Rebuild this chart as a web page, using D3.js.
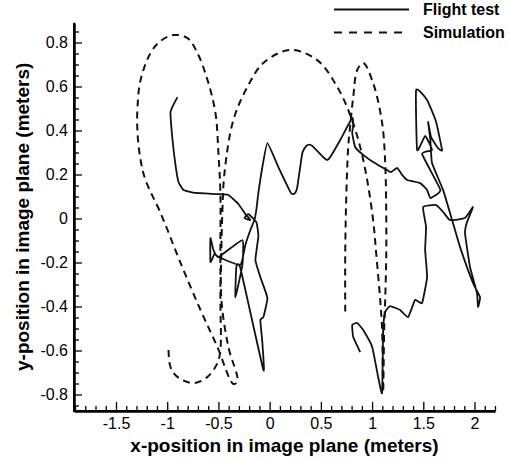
<!DOCTYPE html>
<html>
<head>
<meta charset="utf-8">
<script src="https://cdn.jsdelivr.net/npm/d3@7"></script>
<style>
  html, body { margin: 0; padding: 0; background: #fff; }
  svg { display: block; font-family: "Liberation Sans", Arial, Helvetica, sans-serif; }
</style>
</head>
<body>
<svg id="chart" width="509" height="461"></svg>
<script>
// Series names shown in the legend
const seriesNames = ["Flight test", "Simulation"];

// Flight test trajectory: [x, y] positions in meters
const flightTest = [
  [-0.900, 0.552], [-0.968, 0.484], [-0.948, 0.357], [-0.919, 0.243], [-0.890, 0.166],
  [-0.841, 0.130], [-0.725, 0.116], [-0.510, 0.111], [-0.403, 0.107], [-0.305, 0.066],
  [-0.237, 0.020], [-0.188, -0.007], [-0.247, 0.002], [-0.208, 0.020], [-0.130, -0.016],
  [-0.110, -0.080], [-0.139, -0.189], [-0.091, -0.266], [-0.022, -0.361], [-0.061, -0.448],
  [-0.091, -0.461], [-0.071, -0.566], [-0.061, -0.689], [-0.286, -0.225], [-0.325, -0.220],
  [-0.334, -0.357], [-0.266, -0.211], [-0.266, -0.098], [-0.500, -0.175], [-0.549, -0.143],
  [-0.578, -0.089], [-0.578, -0.198], [-0.539, -0.161], [-0.500, -0.175], [-0.286, -0.211],
  [-0.237, -0.120], [-0.188, -0.052], [-0.149, -0.007], [-0.130, 0.039], [-0.110, 0.116],
  [-0.071, 0.234], [-0.022, 0.343], [0.085, 0.234], [0.182, 0.139], [0.210, 0.115],
  [0.231, 0.111], [0.252, 0.118], [0.270, 0.143], [0.319, 0.298], [0.358, 0.330],
  [0.387, 0.336], [0.416, 0.330], [0.530, 0.276], [0.562, 0.266], [0.595, 0.282],
  [0.689, 0.357], [0.806, 0.457], [0.816, 0.425], [0.806, 0.389], [0.835, 0.325],
  [0.913, 0.289], [1.010, 0.257], [1.147, 0.220], [1.186, 0.211], [1.245, 0.230],
  [1.293, 0.198], [1.342, 0.175], [1.469, 0.161], [1.537, 0.130], [1.569, 0.093],
  [1.667, 0.130], [1.488, 0.293], [1.585, 0.311], [1.518, 0.375], [1.440, 0.311],
  [1.430, 0.584], [1.537, 0.539], [1.625, 0.439], [1.683, 0.311], [1.644, 0.320],
  [1.576, 0.370], [1.547, 0.439], [1.569, 0.357], [1.585, 0.252], [1.693, 0.130],
  [1.781, -0.007], [1.859, -0.130], [1.985, -0.293], [2.054, -0.357], [2.034, -0.402],
  [2.024, -0.339], [1.956, -0.220], [1.907, -0.066], [1.927, -0.016], [1.985, 0.052],
  [1.907, 0.002], [1.761, -0.007], [1.693, 0.030], [1.625, 0.061], [1.498, 0.052],
  [1.527, -0.039], [1.518, -0.143], [1.537, -0.266], [1.488, -0.384], [1.420, -0.370],
  [1.352, -0.448], [1.274, -0.416], [1.176, -0.398], [1.128, -0.425], [1.108, -0.507],
  [1.098, -0.793], [1.059, -0.720], [1.001, -0.584], [0.913, -0.507], [0.855, -0.475],
  [0.806, -0.484], [0.816, -0.539], [0.884, -0.607]
];

// Simulated trajectory: [x, y] positions in meters
const simulation = [
  [-0.987, -0.598], [-0.968, -0.675], [-0.900, -0.720], [-0.744, -0.748], [-0.607, -0.720],
  [-0.510, -0.657], [-0.481, -0.598], [-0.481, -0.370], [-0.481, -0.143], [-0.481, 0.116],
  [-0.500, 0.298], [-0.529, 0.479], [-0.607, 0.630], [-0.705, 0.752], [-0.802, 0.820],
  [-0.939, 0.834], [-1.065, 0.807], [-1.163, 0.752], [-1.260, 0.630], [-1.290, 0.507],
  [-1.290, 0.389], [-1.260, 0.266], [-1.212, 0.175], [-1.065, 0.025], [-0.870, -0.202],
  [-0.675, -0.416], [-0.510, -0.584], [-0.354, -0.752], [-0.315, -0.739], [-0.403, -0.584],
  [-0.471, -0.370], [-0.471, -0.143], [-0.461, 0.039], [-0.441, 0.207], [-0.354, 0.448],
  [-0.217, 0.598], [-0.061, 0.707], [0.202, 0.766], [0.465, 0.720], [0.660, 0.598],
  [0.787, 0.470], [0.884, 0.325], [0.952, 0.175], [1.010, -0.007], [1.040, -0.157],
  [1.079, -0.370], [1.098, -0.507], [1.108, -0.789], [1.118, -0.507], [1.128, -0.370],
  [1.138, -0.175], [1.138, 0.025], [1.128, 0.252], [1.098, 0.434], [1.010, 0.616],
  [0.913, 0.707], [0.855, 0.675], [0.816, 0.552], [0.787, 0.425], [0.767, 0.325],
  [0.748, 0.098], [0.738, -0.157], [0.738, -0.430]
];

// Axis ticks and titles
const xTickValues = [-1.5, -1, -0.5, 0, 0.5, 1, 1.5, 2];
const xTickLabels = ["-1.5", "-1", "-0.5", "0", "0.5", "1", "1.5", "2"];
const yTickValues = [-0.8, -0.6, -0.4, -0.2, 0, 0.2, 0.4, 0.6, 0.8];
const yTickLabels = ["-0.8", "-0.6", "-0.4", "-0.2", "0", "0.2", "0.4", "0.6", "0.8"];
const xDomain = [-1.91, 2.2];
const yDomain = [-0.875, 0.89];
const xTitle = "x-position in image plane (meters)";
const yTitle = "y-position in image plane (meters)";

const svg = d3.select("#chart");
const plotLeft = 74, plotRight = 495, plotTop = 22.7, plotBottom = 411;

const x = d3.scaleLinear().domain(xDomain).range([plotLeft, plotRight]);
const y = d3.scaleLinear().domain(yDomain).range([plotBottom, plotTop]);

// Minor ticks (every 0.1 on x, 0.05 on y), drawn without labels
const xMinor = d3.range(-19, 23).map(i => i / 10)
  .filter(v => v >= xDomain[0] && v <= xDomain[1] && !xTickValues.some(t => Math.abs(t - v) < 1e-6));
const yMinor = d3.range(-17, 18).map(i => i / 20)
  .filter(v => v >= yDomain[0] && v <= yDomain[1] && !yTickValues.some(t => Math.abs(t - v) < 1e-6));

const gx = svg.append("g").attr("transform", `translate(0,${plotBottom})`);
gx.call(d3.axisBottom(x).tickValues(xMinor).tickSize(-5).tickSizeOuter(0).tickFormat(""));
gx.append("g").call(d3.axisBottom(x).tickValues(xTickValues).tickSize(-9).tickSizeOuter(0)
  .tickPadding(7).tickFormat((d, i) => xTickLabels[i]));

const gy = svg.append("g").attr("transform", `translate(${plotLeft},0)`);
gy.call(d3.axisLeft(y).tickValues(yMinor).tickSize(-5).tickSizeOuter(0).tickFormat(""));
gy.append("g").call(d3.axisLeft(y).tickValues(yTickValues).tickSize(-8).tickSizeOuter(0)
  .tickPadding(6).tickFormat((d, i) => yTickLabels[i]));

svg.selectAll(".domain").attr("stroke", "#000").attr("stroke-width", 2);
svg.selectAll(".tick line").attr("stroke", "#000").attr("stroke-width", 1.3);
svg.selectAll(".tick text").attr("fill", "#000").style("font-size", "16px")
  .style("font-family", "'Liberation Sans', Arial, sans-serif");

// Close the corner between the two axis lines
svg.append("line").attr("x1", plotLeft - 1).attr("x2", plotRight).attr("y1", plotBottom).attr("y2", plotBottom)
  .attr("stroke", "#000").attr("stroke-width", 2);
svg.append("line").attr("x1", plotLeft).attr("x2", plotLeft).attr("y1", plotTop).attr("y2", plotBottom + 1)
  .attr("stroke", "#000").attr("stroke-width", 2);

// Axis titles
svg.append("text").attr("x", (plotLeft + plotRight) / 2).attr("y", 452)
  .attr("text-anchor", "middle").style("font-size", "19px").style("font-weight", "bold")
  .text(xTitle);
svg.append("text").attr("transform", `translate(29,${(plotTop + plotBottom) / 2}) rotate(-90)`)
  .attr("text-anchor", "middle").style("font-size", "19px").style("font-weight", "bold")
  .text(yTitle);

// Trajectories: smooth simulated path, lightly smoothed measured path
const simLine = d3.line().x(d => x(d[0])).y(d => y(d[1])).curve(d3.curveCatmullRom.alpha(0.5));
const flightLine = d3.line().x(d => x(d[0])).y(d => y(d[1])).curve(d3.curveCardinal.tension(0.6));

svg.append("path").datum(simulation).attr("d", simLine)
  .attr("fill", "none").attr("stroke", "#111").attr("stroke-width", 2)
  .attr("stroke-dasharray", "7,5");

svg.append("path").datum(flightTest).attr("d", flightLine)
  .attr("fill", "none").attr("stroke", "#111").attr("stroke-width", 1.8)
  .attr("stroke-linejoin", "round");

// Legend
const legend = svg.append("g");
const dashes = [null, "8,7"];
seriesNames.forEach((name, i) => {
  const ly = 9.5 + i * 23;
  legend.append("line").attr("x1", 334).attr("x2", 409).attr("y1", ly).attr("y2", ly)
    .attr("stroke", "#111").attr("stroke-width", 2)
    .attr("stroke-dasharray", dashes[i]);
  legend.append("text").attr("x", 423).attr("y", ly).attr("dy", "0.36em")
    .style("font-size", "16px").style("font-weight", "bold").text(name);
});
</script>
</body>
</html>
